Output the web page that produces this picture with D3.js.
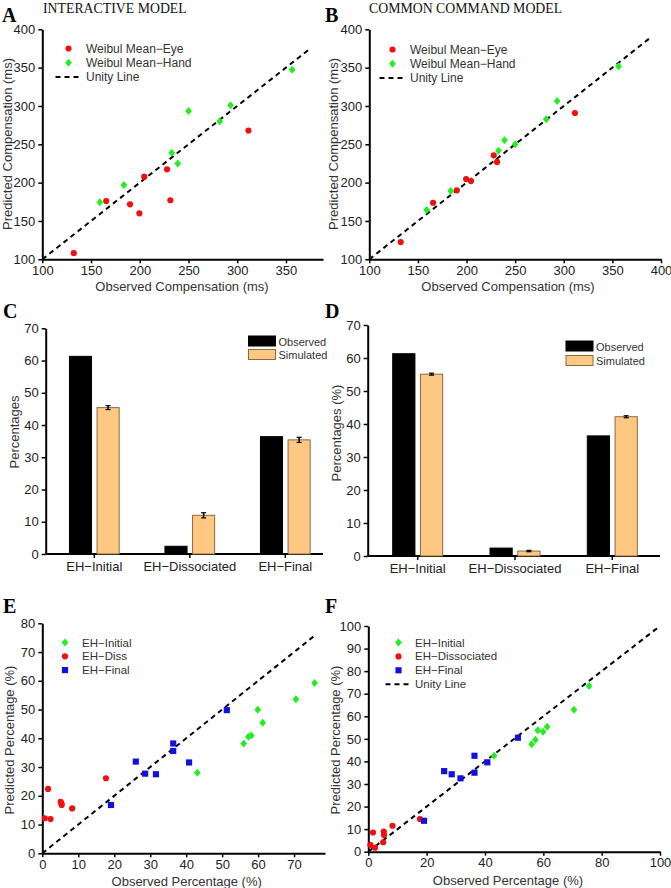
<!DOCTYPE html>
<html><head><meta charset="utf-8">
<script src="https://cdn.jsdelivr.net/npm/d3@7"></script>
<style>
body{margin:0;background:#fff}
svg{display:block}
text{font-family:"Liberation Sans",Arial,sans-serif}
</style>
</head><body><svg id="c" width="671" height="888"></svg>
<script>
// ---------- DATA ----------
const compTicks = [100,150,200,250,300,350];
const compTicksB = [100,150,200,250,300,350,400];
const compEyeObserved = [132.3,165.6,190.0,199.6,204.6,228.0,231.4,311.5];
const compEyePredInteractive = [108,176,171.7,160,207.8,217.4,177,268];
const compEyePredCommon = [122.6,173.8,190,204.7,202,235.6,227,290.8];
const compHandObserved = [159,183.7,232.8,239,250,282,293.2,356.3];
const compHandPredInteractive = [174.3,197,239,225,293.5,280,301,347.3];
const compHandPredCommon = [164.3,189,241.7,255.2,250,282.6,306.5,351.7];

const barCategories = ["EH\u2212Initial","EH\u2212Dissociated","EH\u2212Final"];
const barSeries = ["Observed","Simulated"];
const barTicks = [0,10,20,30,40,50,60,70];
const barObserved = [61.3,2.4,36.4];
const barSimInteractive = [45.4,12.0,35.4];
const barSimInteractiveErr = [0.6,0.8,0.8];
const barSimCommon = [55.1,1.5,42.2];
const barSimCommonErr = [0.3,0.2,0.3];

const pctTicksEx = [0,10,20,30,40,50,60,70];
const pctTicksEy = [0,10,20,30,40,50,60,70,80];
const pctTicksFx = [0,20,40,60,80,100];
const pctTicksFy = [0,10,20,30,40,50,60,70,80,90,100];
const pctInitialObserved = [43.1,56.0,57.3,58.1,59.9,61.3,70.5,75.7];
const pctInitialPredInteractive = [28.0,38.2,40.5,41.0,49.9,45.4,53.6,59.2];
const pctInitialPredCommon = [42.5,47.6,49.6,53.8,53.2,55.4,62.9,73.4];
const pctDissObserved = [0.7,1.6,2.3,5.1,5.3,5.4,8.3,17.7];
const pctDissPredInteractive = [12.2,22.4,11.9,17.9,17.4,16.8,15.6,26.1];
const pctDissPredCommon = [3.0,8.5,1.8,4.2,8.9,7.4,11.5,14.5];
const pctFinalObserved = [19.1,26.0,28.6,31.6,36.4,36.4,40.8,51.3];
const pctFinalPredInteractive = [16.8,31.9,27.7,27.5,38.2,35.6,31.6,49.8];
const pctFinalPredCommon = [13.7,35.7,34.3,32.5,42.5,35.0,39.6,50.5];

// ---------- DRAW ----------
const svg = d3.select("#c");
const RED = "#f01010", GREEN = "#22ee22", BLUE = "#1010e0", ORANGE = "#ffc882";
const symCircle = d3.symbol().type(d3.symbolCircle).size(30)();
const symDiamond = "M0,-4L3.4,0L0,4L-3.4,0Z";
const symSquare = d3.symbol().type(d3.symbolSquare).size(38)();

function styleAxis(a){
  a.select(".domain").attr("stroke","#000").attr("stroke-width",2);
  a.selectAll(".tick line").attr("stroke","#000").attr("stroke-width",1.5);
  a.selectAll(".tick text").attr("fill","#222").style("font-size","13px")
   .style("font-family","'Liberation Sans',Arial,sans-serif");
}

function txt(x,y,s,opt={}){
  const t = svg.append("text").attr("x",x).attr("y",y).text(s)
    .attr("fill",opt.fill||"#333").style("font-size",(opt.size||12.5)+"px");
  if(opt.anchor) t.attr("text-anchor",opt.anchor);
  if(opt.family) t.style("font-family",opt.family);
  if(opt.weight) t.style("font-weight",opt.weight);
  if(opt.rot) t.attr("transform",`rotate(-90,${x},${y})`);
  return t;
}

function scatter(c){
  const x = d3.scaleLinear().domain(c.xDomain).range(c.xRange);
  const y = d3.scaleLinear().domain(c.yDomain).range(c.yRange);
  const g = svg.append("g");
  const ax = g.append("g").attr("transform",`translate(0,${c.yRange[0]})`)
    .call(d3.axisBottom(x).tickValues(c.xTicks).tickSize(4).tickSizeOuter(0).tickPadding(2));
  styleAxis(ax);
  const ay = g.append("g").attr("transform",`translate(${c.xRange[0]},0)`)
    .call(d3.axisLeft(y).tickValues(c.yTicks).tickSize(4).tickSizeOuter(0).tickPadding(3));
  styleAxis(ay);
  g.append("line").attr("x1",x(c.unity[0])).attr("y1",y(c.unity[0]))
    .attr("x2",x(c.unity[1])).attr("y2",y(c.unity[1]))
    .attr("stroke","#000").attr("stroke-width",2).attr("stroke-dasharray","5,4");
  c.series.forEach(s=>{
    g.selectAll(null).data(s.xs.map((v,i)=>[v,s.ys[i]])).enter().append("path")
      .attr("d",s.sym).attr("fill",s.color)
      .attr("transform",d=>`translate(${x(d[0])},${y(d[1])})`);
  });
  const L = c.legend;
  c.series.forEach((s,i)=>{
    const ly = L.y + i*L.dy;
    g.append("path").attr("d",s.sym).attr("fill",s.color).attr("transform",`translate(${L.x},${ly})`);
    txt(L.tx, ly+4, s.name, {size:L.size});
  });
  if(L.unity){
    const ly = L.y + c.series.length*L.dy;
    g.append("line").attr("x1",L.x-13).attr("x2",L.x+14).attr("y1",ly).attr("y2",ly)
      .attr("stroke","#000").attr("stroke-width",2).attr("stroke-dasharray","5,4");
    txt(L.tx, ly+4, "Unity Line", {size:L.size});
  }
  txt(c.xTitle[0], c.xTitle[1], c.xTitle[2], {anchor:"middle", size:13});
  txt(c.yTitle[0], c.yTitle[1], c.yTitle[2], {anchor:"middle", rot:true, size:13});
}

function bars(c){
  const y = d3.scaleLinear().domain([0,70]).range(c.yRange);
  const x0 = d3.scaleBand().domain(barCategories).range(c.bandRange).padding(0);
  const x1 = d3.scaleBand().domain(barSeries).range([0,c.inner]).paddingInner(0.2);
  const off = (x0.bandwidth()-c.inner)/2;
  const g = svg.append("g");
  const ay = g.append("g").attr("transform",`translate(${c.axisX[0]},0)`)
    .call(d3.axisLeft(y).tickValues(barTicks).tickSize(4).tickSizeOuter(0).tickPadding(3));
  styleAxis(ay);
  const ax = g.append("g").attr("transform",`translate(0,${c.yRange[0]})`)
    .call(d3.axisBottom(x0).tickSize(4).tickSizeOuter(0).tickPadding(4));
  styleAxis(ax);
  ax.select(".domain").remove();
  g.append("line").attr("x1",c.axisX[0]).attr("x2",c.axisX[1])
    .attr("y1",c.yRange[0]).attr("y2",c.yRange[0]).attr("stroke","#000").attr("stroke-width",2);
  const vals = {Observed:barObserved, Simulated:c.sim};
  barCategories.forEach((cat,i)=>{
    barSeries.forEach(s=>{
      const v = vals[s][i];
      const bx = x0(cat)+off+x1(s);
      g.append("rect").attr("x",bx).attr("y",y(v)).attr("width",x1.bandwidth())
        .attr("height",y(0)-y(v))
        .attr("fill",s==="Observed"?"#000":ORANGE)
        .attr("stroke",s==="Observed"?"#000":"#8a6a40").attr("stroke-width",1);
      if(s==="Simulated"){
        const cx = bx + x1.bandwidth()/2, e = c.err[i];
        g.append("line").attr("x1",cx).attr("x2",cx).attr("y1",y(v-e)).attr("y2",y(v+e)).attr("stroke","#000").attr("stroke-width",1.5);
        [v-e,v+e].forEach(t=>g.append("line").attr("x1",cx-2.5).attr("x2",cx+2.5).attr("y1",y(t)).attr("y2",y(t)).attr("stroke","#000").attr("stroke-width",1.2));
      }
    });
  });
  const L = c.legend;
  barSeries.forEach((s,i)=>{
    const ly = L.y + i*L.dy;
    g.append("rect").attr("x",L.x).attr("y",ly).attr("width",27).attr("height",10)
      .attr("fill",s==="Observed"?"#000":ORANGE).attr("stroke",s==="Observed"?"#000":"#8a6a40");
    txt(L.x+30, ly+9.5, s, {size:11});
  });
  txt(c.yTitle[0], c.yTitle[1], c.yTitle[2], {anchor:"middle", rot:true, size:13});
}

// Panel A
scatter({xDomain:[100,388], xRange:[42.3,323], yDomain:[100,400], yRange:[259.3,29.3],
  xTicks:compTicks, yTicks:compTicksB, unity:[100,375],
  series:[{name:"Weibul Mean\u2212Eye", xs:compEyeObserved, ys:compEyePredInteractive, sym:symCircle, color:RED},
          {name:"Weibul Mean\u2212Hand", xs:compHandObserved, ys:compHandPredInteractive, sym:symDiamond, color:GREEN}],
  legend:{x:68.5, tx:86, y:48.5, dy:14.2, unity:true, size:12},
  xTitle:[182,291,"Observed Compensation (ms)"], yTitle:[12,144,"Predicted Compensation (ms)"]});
// Panel B
scatter({xDomain:[100,400], xRange:[369.3,661], yDomain:[100,400], yRange:[259.3,29.3],
  xTicks:compTicksB, yTicks:compTicksB, unity:[100,390],
  series:[{name:"Weibul Mean\u2212Eye", xs:compEyeObserved, ys:compEyePredCommon, sym:symCircle, color:RED},
          {name:"Weibul Mean\u2212Hand", xs:compHandObserved, ys:compHandPredCommon, sym:symDiamond, color:GREEN}],
  legend:{x:392.5, tx:410, y:49.5, dy:14.2, unity:true, size:12},
  xTitle:[508,291,"Observed Compensation (ms)"], yTitle:[338,144,"Predicted Compensation (ms)"]});
// Panel C
bars({yRange:[554,328.3], bandRange:[46.55,333.05], inner:49.7, axisX:[45.7,323],
  sim:barSimInteractive, err:barSimInteractiveErr,
  legend:{x:248.5, y:336, dy:13.5}, yTitle:[18.5,432,"Percentages"]});
// Panel D
bars({yRange:[556,325], bandRange:[369.05,660.95], inner:50, axisX:[367.7,660],
  sim:barSimCommon, err:barSimCommonErr,
  legend:{x:566, y:341, dy:14.5}, yTitle:[341,433,"Percentages (%)"]});
// Panel E
scatter({xDomain:[0,78.6], xRange:[42.3,325], yDomain:[0,80], yRange:[853.3,623.3],
  xTicks:pctTicksEx, yTicks:pctTicksEy, unity:[0,76],
  series:[{name:"EH\u2212Initial", xs:pctInitialObserved, ys:pctInitialPredInteractive, sym:symDiamond, color:GREEN},
          {name:"EH\u2212Diss", xs:pctDissObserved, ys:pctDissPredInteractive, sym:symCircle, color:RED},
          {name:"EH\u2212Final", xs:pctFinalObserved, ys:pctFinalPredInteractive, sym:symSquare, color:BLUE}],
  legend:{x:65, tx:82, y:642.5, dy:13.8, unity:false, size:11.5},
  xTitle:[186.7,886,"Observed Percentage (%)"], yTitle:[13.5,740,"Predicted Percentage (%)"]});
// Panel F
scatter({xDomain:[0,100], xRange:[368.3,660], yDomain:[0,100], yRange:[851.7,626],
  xTicks:pctTicksFx, yTicks:pctTicksFy, unity:[0,100],
  series:[{name:"EH\u2212Initial", xs:pctInitialObserved, ys:pctInitialPredCommon, sym:symDiamond, color:GREEN},
          {name:"EH\u2212Dissociated", xs:pctDissObserved, ys:pctDissPredCommon, sym:symCircle, color:RED},
          {name:"EH\u2212Final", xs:pctFinalObserved, ys:pctFinalPredCommon, sym:symSquare, color:BLUE}],
  legend:{x:398.5, tx:415, y:642.5, dy:13.9, unity:true, size:11.5},
  xTitle:[508,885,"Observed Percentage (%)"], yTitle:[339.5,740,"Predicted Percentage (%)"]});

const serif = "'Liberation Serif','Times New Roman',serif";
[["A",2,22],["B",325,22],["C",3,318],["D",325,318],["E",3,613],["F",325,613]].forEach(d=>
  txt(d[1],d[2],d[0],{size:20,weight:"bold",family:serif,fill:"#000"}));
txt(43,13,"INTERACTIVE MODEL",{size:13.8,family:serif,fill:"#111"});
txt(369,13,"COMMON COMMAND MODEL",{size:13.8,family:serif,fill:"#111"});
</script></body></html>
